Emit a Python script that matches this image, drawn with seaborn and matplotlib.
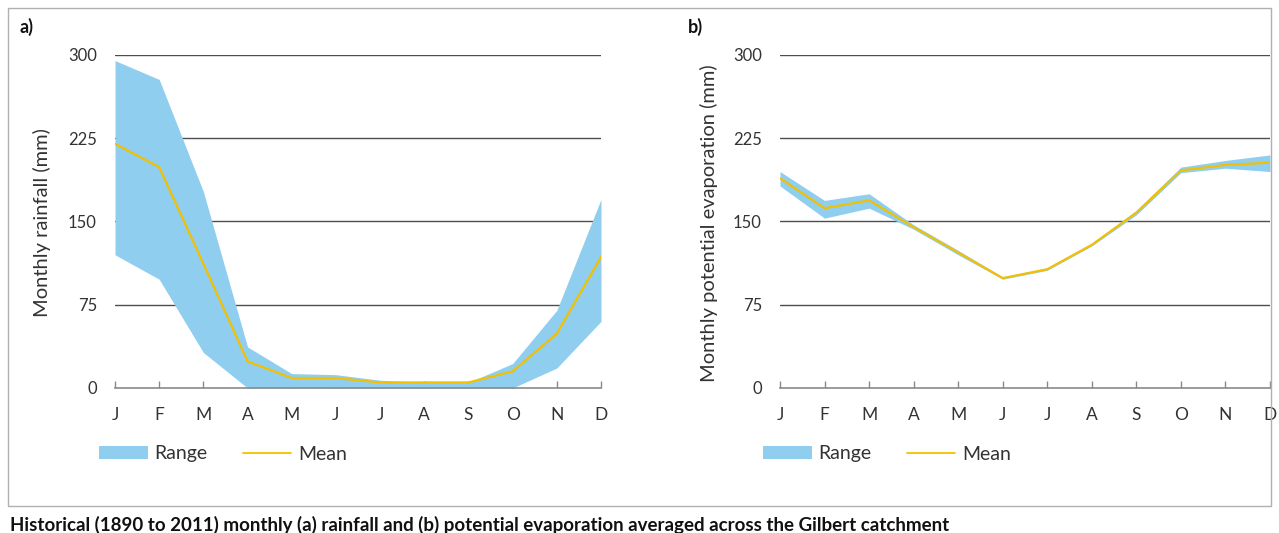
import matplotlib
matplotlib.use("Agg")
import matplotlib.pyplot as plt
import matplotlib.patches as mpatches
from matplotlib.lines import Line2D
import numpy as np
import pandas as pd
import seaborn as sns

months = ["J", "F", "M", "A", "M", "J", "J", "A", "S", "O", "N", "D"]
y_ticks = [0, 75, 150, 225, 300]

# (a) rainfall, mm
rain_mean = [220, 199, 112, 24, 9, 9, 5, 5, 5, 15, 49, 118]
rain_low = [120, 98, 32, 0, 0, 0, 0, 0, 0, 0, 18, 60]
rain_high = [295, 278, 177, 37, 13, 12, 7, 5, 5, 22, 70, 170]

# (b) potential evaporation, mm
evap_mean = [189, 162, 169, 145, 122, 99, 107, 129, 158, 196, 201, 203]
evap_low = [182, 153, 162, 143, 120, 98, 106, 128, 156, 194, 198, 195]
evap_high = [195, 169, 175, 147, 124, 100, 108, 130, 160, 199, 205, 210]

caption = ("Historical (1890 to 2011) monthly (a) rainfall and (b) potential "
           "evaporation averaged across the Gilbert catchment")

FILL = "#90cef0"
LINE = "#f2c000"
TEXT = "#333333"

sns.set_theme(style="white")
plt.rcParams["font.family"] = ["Lato", "DejaVu Sans"]

W, H = 1279, 533
fig = plt.figure(figsize=(W / 100, H / 100), dpi=100)


def fx(px):
    return px / W


def fy(py):
    return 1 - py / H


def draw_panel(left, right, low, high, mean, ylabel, ylabel_x, tag, tag_x, leg_x):
    ax = fig.add_axes([fx(left), fy(388), fx(right - left), fy(55) - fy(388)])
    df = pd.DataFrame({"idx": np.arange(len(months)), "mean": mean,
                       "low": low, "high": high})
    for y in y_ticks[1:]:
        ax.axhline(y, color="#4d4d4d", lw=1, zorder=1)
    ax.fill_between(df["idx"], df["low"], df["high"], color=FILL, lw=0, zorder=2)
    sns.lineplot(data=df, x="idx", y="mean", ax=ax, color=LINE, lw=1.6, zorder=3)
    ax.set_xlim(0, 11)
    ax.set_ylim(0, 300)
    ax.set_xticks(df["idx"])
    ax.set_xticklabels(months)
    ax.set_yticks(y_ticks)
    for s in ["top", "right", "left"]:
        ax.spines[s].set_visible(False)
    ax.spines["bottom"].set_color("#8a8a8a")
    ax.spines["bottom"].set_linewidth(1.2)
    ax.spines["bottom"].set_zorder(4)
    ax.tick_params(axis="x", direction="in", length=5, width=1, color="#8a8a8a",
                   pad=14, labelsize=12.5, labelcolor=TEXT, bottom=True)
    ax.tick_params(axis="y", length=0, pad=13, labelsize=12, labelcolor=TEXT)
    ax.set_xlabel("")
    ax.set_ylabel("")
    ax.patch.set_alpha(0)
    fig.text(fx(ylabel_x), fy(223), ylabel, rotation=90, ha="center",
             va="center", fontsize=14.5, color=TEXT)
    fig.text(fx(tag_x), fy(27), tag, ha="left", va="center", fontsize=13,
             fontweight="bold", color="#111111")
    handles = [mpatches.Patch(color=FILL, lw=0),
               Line2D([0], [0], color=LINE, lw=1.3)]
    ax.legend(handles, ["Range", "Mean"], loc="center left", ncol=2,
              bbox_to_anchor=(fx(leg_x), fy(454)), bbox_transform=fig.transFigure,
              frameon=False, fontsize=14, handlelength=2.5, handleheight=0.6,
              handletextpad=0.36, columnspacing=1.8, borderpad=0,
              borderaxespad=0, labelcolor=TEXT)
    return ax


draw_panel(115, 601, rain_low, rain_high, rain_mean, "Monthly rainfall (mm)",
           42, "a)", 20, 99)
draw_panel(780, 1270, evap_low, evap_high, evap_mean,
           "Monthly potential evaporation (mm)", 709, "b)", 688, 763)

# outer frame
fig.patches.append(mpatches.Rectangle((fx(8), fy(506)), fx(1271 - 8), fy(8) - fy(506),
                                      transform=fig.transFigure, fill=False,
                                      edgecolor="#b0b0b0", lw=1))

fig.text(fx(10), fy(525), caption, ha="left", va="center", fontsize=13.5,
         fontweight="bold", color="#111111")

fig.savefig("out.png", dpi=100)
